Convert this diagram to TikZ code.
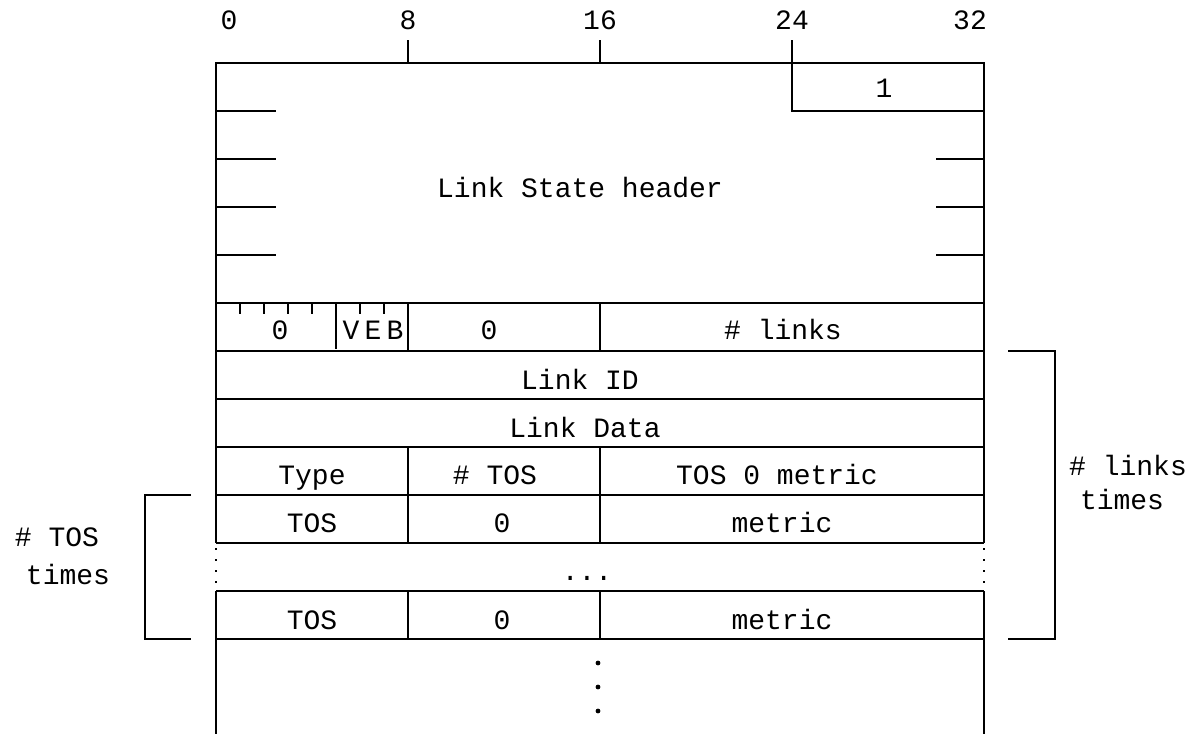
\documentclass[tikz,border=0pt]{standalone}
\usepackage{fontspec}
\setmainfont{Liberation Mono}
\begin{document}
\begin{tikzpicture}[x=1pt,y=-1pt,line width=1.8pt,
  lbl/.style={inner sep=0pt,anchor=base,font=\fontsize{28}{30}\selectfont},
  dotedge/.style={line width=1.8pt,dash pattern=on 2pt off 9pt}]
\useasboundingbox (0,0) rectangle (1195,734);
% bit scale
\node[lbl] (b0)  at (229,29) {0};
\node[lbl] (b8)  at (408,29) {8};
\node[lbl] (b16) at (600,29) {16};
\node[lbl] (b24) at (792,29) {24};
\node[lbl] (b32) at (970,29) {32};
\draw (408,40) -- (408,63);
\draw (600,40) -- (600,63);
% outer frame
\draw (216,591) -- (216,734);
\draw (216,543) -- (216,63) -- (984,63) -- (984,543);
\draw (984,591) -- (984,734);
\draw[dotedge] (216,548) -- (216,591);
\draw[dotedge] (984,548) -- (984,591);
% header block
\draw (792,40) -- (792,111) -- (984,111);
\node[lbl] (one) at (884,97) {1};
\foreach \yy in {111,159,207,255} \draw (216,\yy) -- (276,\yy);
\foreach \yy in {159,207,255} \draw (936,\yy) -- (984,\yy);
\node[lbl] (lsh) at (580,197) {Link State header};
% rows
\foreach \yy in {303,351,399,447,495,543,591,639} \draw (216,\yy) -- (984,\yy);
% bits row
\foreach \xx in {240,264,288,312,360,384} \draw (\xx,303) -- (\xx,314);
\draw (336,303) -- (336,349);
\draw (408,303) -- (408,351);
\draw (600,303) -- (600,351);
\node[lbl] (z1) at (280,339) {0};
\node[lbl] (fv) at (351,339) {V};
\node[lbl] (fe) at (373,339) {E};
\node[lbl] (fb) at (395,339) {B};
\node[lbl] (z2) at (489,339) {0};
\node[lbl] (nl) at (783,339) {\# links};
\node[lbl] (lid) at (580,389) {Link ID};
\node[lbl] (ldt) at (585,437) {Link Data};
% type row
\draw (408,447) -- (408,495);
\draw (600,447) -- (600,495);
\node[lbl] (typ) at (312,484) {Type};
\node[lbl] (ntos) at (495,484) {\# TOS};
\node[lbl] (t0m) at (777,484) {TOS 0 metric};
% TOS row 1
\draw (408,495) -- (408,543);
\draw (600,495) -- (600,543);
\node[lbl] (tos1) at (312,532) {TOS};
\node[lbl] (zz1) at (502,532) {0};
\node[lbl] (met1) at (782,532) {metric};
\node[lbl] (ell) at (587,580) {...};
% TOS row 2
\draw (408,591) -- (408,639);
\draw (600,591) -- (600,639);
\node[lbl] (tos2) at (312,629) {TOS};
\node[lbl] (zz2) at (502,629) {0};
\node[lbl] (met2) at (782,629) {metric};
% vertical dots
\fill (598,663) circle[radius=2.4pt];
\fill (598,687) circle[radius=2.4pt];
\fill (598,711) circle[radius=2.4pt];
% brackets
\draw (191,495) -- (145,495) -- (145,639) -- (191,639);
\node[lbl] (lt1) at (57,546) {\# TOS};
\node[lbl] (lt2) at (68,584) {times};
\draw (1008,351) -- (1055,351) -- (1055,639) -- (1008,639);
\node[lbl] (rt1) at (1128,475) {\# links};
\node[lbl] (rt2) at (1122,509) {times};
\end{tikzpicture}
\end{document}
